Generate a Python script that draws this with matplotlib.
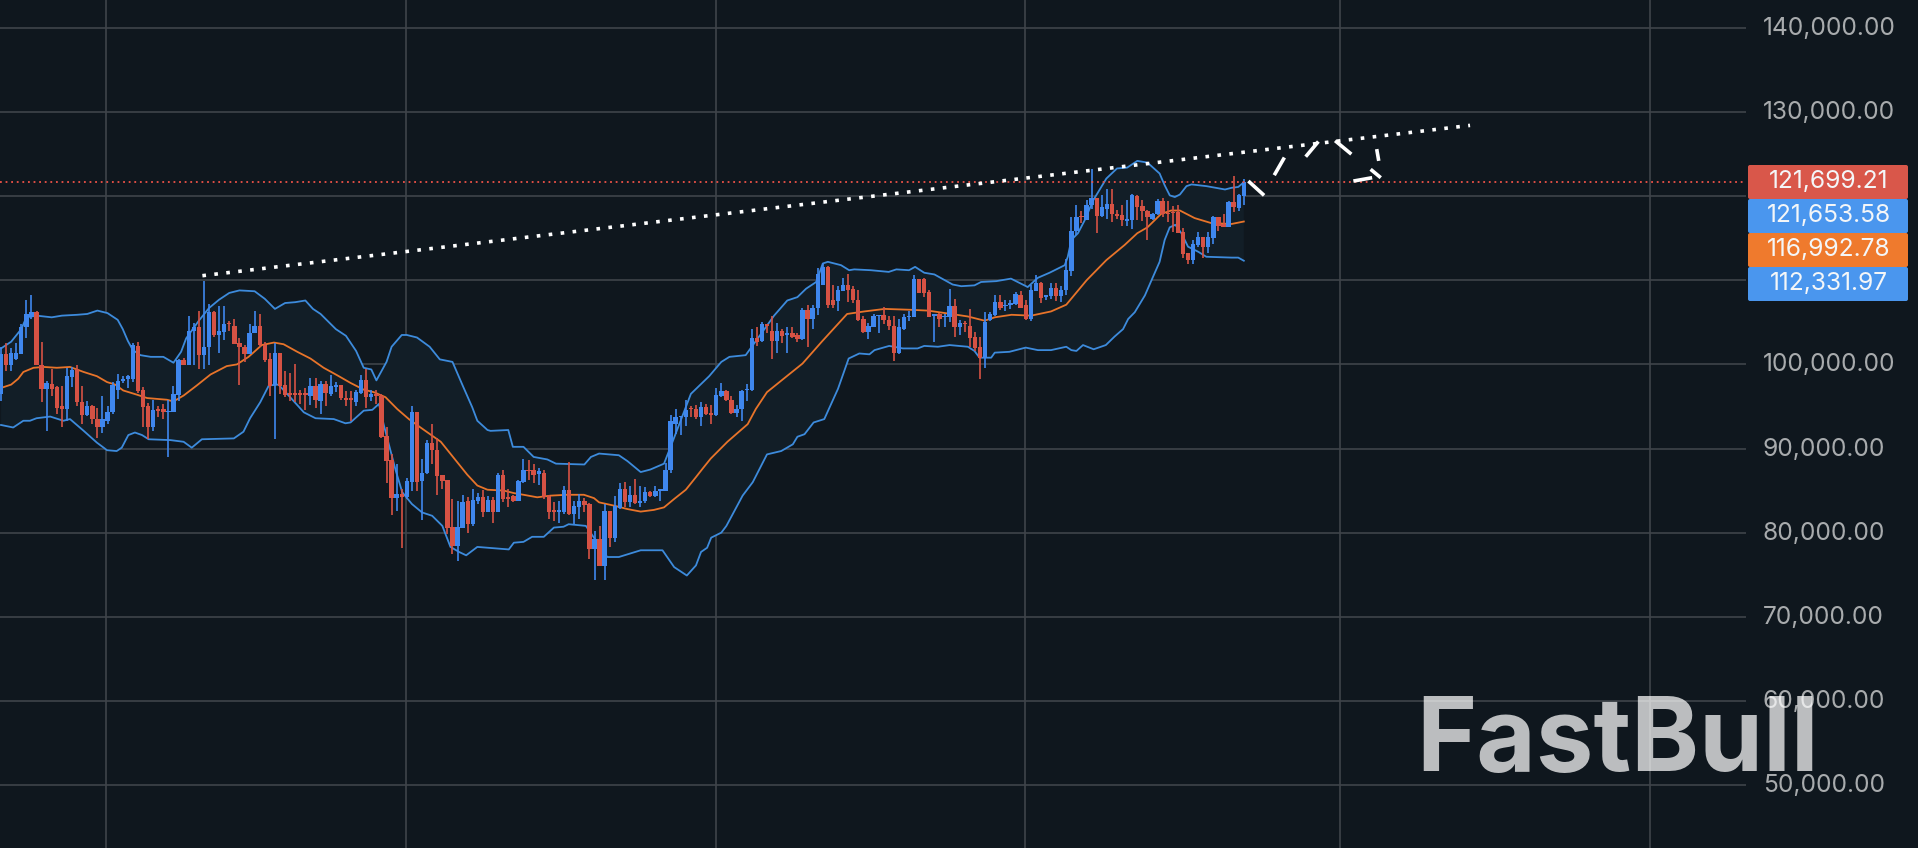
import matplotlib
matplotlib.use('Agg')
import matplotlib.pyplot as plt
from matplotlib.patches import FancyBboxPatch
from matplotlib.transforms import IdentityTransform, ScaledTranslation
import numpy as np

# Candles, prices in thousands
open_k = [
    96.5, 101.2, 99.9, 100.7, 101.2, 104.4, 105.6, 106.2, 99.9, 97.1,
    97.7, 97.3, 95.0, 94.7, 98.5, 99.4, 95.5, 94.0, 95.1, 93.5,
    92.5, 93.3, 94.3, 96.9, 98.0, 98.3, 98.3, 102.2, 96.9, 95.1,
    92.5, 94.7, 94.7, 94.4, 94.4, 96.4, 100.5, 99.9, 104.0, 104.4,
    101.1, 102.1, 106.2, 103.5, 103.9, 104.9, 104.6, 102.5, 102.1, 101.2,
    103.7, 104.6, 102.3, 100.6, 97.5, 101.3, 97.6, 96.6, 96.6, 96.6,
    96.6, 96.3, 97.4, 95.7, 97.7, 96.5, 97.3, 97.5, 96.0, 96.0,
    95.5, 96.6, 98.2, 96.1, 96.5, 96.3, 91.5, 88.6, 84.1, 84.6,
    84.2, 86.0, 94.3, 86.1, 87.1, 90.6, 89.8, 86.8, 86.2, 80.7,
    78.4, 80.6, 83.7, 81.0, 83.7, 84.2, 82.5, 83.9, 82.5, 86.9,
    84.2, 84.3, 83.7, 86.0, 87.5, 87.4, 87.0, 87.1, 84.4, 82.7,
    82.5, 82.5, 85.1, 82.2, 83.0, 83.8, 83.4, 78.1, 79.2, 76.0,
    82.6, 79.4, 82.9, 85.2, 83.6, 84.5, 83.5, 83.7, 84.8, 84.3,
    85.0, 85.0, 87.4, 92.9, 93.7, 93.8, 94.8, 94.7, 93.7, 94.9,
    94.2, 94.0, 96.3, 96.8, 95.8, 94.2, 94.7, 96.9, 96.9, 103.2,
    102.8, 104.8, 104.0, 102.8, 104.0, 103.5, 103.7, 103.5, 103.0, 106.5,
    105.4, 106.7, 109.5, 111.6, 107.6, 107.5, 108.7, 109.4, 109.0, 107.7,
    105.4, 103.8, 104.5, 105.7, 105.9, 105.3, 104.6, 101.4, 104.2, 105.6,
    105.6, 110.2, 110.2, 108.6, 105.7, 106.0, 105.6, 105.6, 106.9, 104.4,
    104.9, 104.6, 103.3, 102.1, 100.8, 105.3, 105.9, 107.4, 107.0, 107.1,
    107.2, 108.3, 107.1, 105.4, 108.7, 109.7, 108.0, 108.1, 109.1, 108.1,
    108.9, 111.1, 115.9, 117.6, 117.2, 118.9, 119.8, 117.6, 118.5, 119.1,
    117.9, 117.8, 117.1, 117.2, 120.0, 118.8, 118.3, 117.3, 117.9, 119.4,
    118.0, 118.1, 118.1, 115.8, 113.2, 112.4, 114.2, 115.1, 114.0, 115.0,
    117.5, 116.7, 116.3, 119.3, 118.6, 120.0,
]
close_k = [
    101.2, 99.9, 101.3, 101.3, 104.4, 106.0, 106.2, 99.9, 97.1, 97.8,
    97.1, 94.8, 94.7, 98.6, 99.3, 95.5, 94.0, 95.1, 93.5, 92.5,
    93.5, 94.4, 97.5, 98.0, 98.3, 98.6, 102.3, 96.8, 94.9, 92.5,
    94.6, 94.5, 94.4, 94.5, 96.5, 100.5, 99.9, 104.0, 104.4, 101.1,
    102.1, 106.2, 103.5, 104.0, 104.8, 104.8, 102.4, 102.1, 101.2, 103.7,
    104.6, 102.3, 100.5, 97.4, 101.3, 97.4, 96.4, 96.4, 96.4, 96.4,
    96.4, 97.4, 95.8, 97.7, 96.6, 97.4, 97.5, 96.0, 95.8, 95.8,
    96.7, 98.2, 96.1, 96.5, 96.3, 91.4, 88.5, 84.1, 84.6, 84.2,
    86.1, 94.3, 86.0, 87.1, 90.6, 89.8, 86.7, 86.1, 80.6, 78.4,
    80.7, 83.6, 81.0, 83.9, 84.2, 82.4, 83.9, 82.5, 86.9, 84.0,
    84.0, 83.7, 86.1, 87.5, 87.3, 86.8, 87.3, 84.2, 82.5, 82.5,
    82.7, 85.1, 82.2, 83.2, 83.8, 83.3, 78.1, 79.2, 76.0, 82.6,
    79.4, 83.2, 85.2, 83.6, 84.5, 83.5, 83.8, 84.8, 84.4, 85.0,
    85.2, 87.5, 93.3, 93.7, 93.9, 94.6, 94.7, 93.7, 94.9, 94.1,
    94.0, 96.4, 96.8, 95.8, 94.2, 94.7, 96.8, 97.1, 103.2, 102.7,
    104.8, 104.6, 102.8, 104.0, 103.4, 103.7, 103.3, 103.0, 106.5, 105.4,
    106.7, 110.8, 111.6, 107.1, 107.1, 108.9, 109.4, 108.9, 107.6, 105.3,
    103.8, 104.6, 105.8, 105.9, 105.3, 104.6, 101.4, 104.4, 105.6, 105.8,
    110.2, 108.5, 108.5, 105.6, 106.0, 105.4, 105.8, 106.9, 104.4, 104.9,
    104.8, 103.2, 102.0, 100.8, 105.0, 106.0, 107.4, 106.7, 107.1, 107.3,
    108.4, 106.7, 105.4, 108.8, 109.7, 107.9, 108.2, 109.1, 108.1, 108.9,
    111.2, 115.9, 117.5, 117.5, 119.0, 119.8, 117.6, 118.7, 119.1, 117.9,
    117.7, 117.2, 117.3, 120.1, 118.7, 118.3, 117.5, 117.9, 119.4, 117.9,
    117.9, 118.0, 115.6, 113.1, 112.4, 114.3, 115.1, 114.0, 115.1, 117.5,
    116.4, 116.3, 119.3, 118.7, 120.1, 121.7,
]
high_k = [
    102.1, 102.5, 101.9, 102.5, 104.8, 107.7, 108.3, 106.4, 102.7, 98.0,
    99.4, 97.4, 97.4, 99.6, 99.7, 99.9, 97.4, 95.6, 95.2, 94.8,
    96.2, 95.1, 97.9, 98.9, 98.6, 98.8, 102.5, 102.7, 97.3, 95.4,
    95.8, 95.1, 95.3, 95.8, 97.4, 100.7, 100.8, 105.8, 104.9, 106.3,
    109.9, 107.2, 106.3, 106.9, 107.0, 105.2, 105.4, 103.2, 102.3, 104.8,
    106.4, 106.0, 102.7, 101.3, 102.5, 101.3, 99.2, 99.0, 100.1, 96.9,
    97.2, 98.4, 98.4, 98.0, 98.0, 98.8, 97.9, 97.6, 96.8, 96.8,
    96.9, 98.7, 99.4, 97.0, 96.9, 96.5, 92.5, 89.3, 88.2, 85.2,
    86.5, 95.1, 94.4, 88.8, 91.0, 92.9, 91.2, 86.9, 86.3, 84.0,
    83.7, 84.5, 84.2, 85.2, 84.7, 85.1, 84.4, 84.2, 87.1, 87.5,
    85.2, 84.5, 86.3, 88.8, 88.6, 88.2, 87.7, 87.5, 84.5, 83.6,
    83.8, 85.6, 88.4, 83.8, 84.6, 84.1, 83.5, 80.2, 80.8, 83.4,
    82.6, 84.3, 85.9, 86.0, 85.6, 86.4, 85.5, 85.4, 85.0, 85.6,
    85.2, 88.3, 94.0, 94.7, 93.9, 95.8, 95.1, 95.2, 95.5, 95.3,
    95.2, 97.2, 97.8, 97.0, 96.2, 95.2, 97.0, 97.7, 104.2, 104.4,
    105.0, 104.8, 105.8, 104.9, 104.2, 104.4, 104.5, 103.7, 106.7, 107.1,
    107.1, 111.5, 112.0, 111.7, 109.4, 109.3, 110.3, 110.7, 109.3, 108.9,
    105.8, 104.9, 106.0, 105.9, 106.8, 105.8, 105.8, 105.4, 106.0, 106.4,
    110.6, 110.2, 110.3, 108.8, 106.0, 106.1, 106.0, 109.0, 107.8, 105.3,
    105.2, 106.6, 103.8, 103.3, 106.2, 106.2, 108.2, 108.3, 107.7, 107.6,
    108.6, 108.7, 107.6, 109.4, 110.6, 109.8, 108.3, 109.7, 109.7, 109.3,
    112.5, 117.5, 118.9, 118.3, 119.5, 123.2, 119.8, 120.1, 120.9, 120.8,
    118.4, 118.9, 119.6, 120.3, 120.1, 119.5, 118.4, 118.0, 119.7, 119.8,
    119.4, 118.8, 118.9, 116.2, 113.3, 114.8, 115.8, 115.1, 115.8, 117.7,
    117.5, 117.9, 119.4, 122.4, 120.3, 122.0,
]
low_k = [
    95.6, 99.2, 99.2, 100.5, 101.2, 103.2, 105.4, 99.9, 95.5, 92.1,
    96.3, 94.1, 92.5, 93.3, 97.3, 95.0, 92.9, 93.9, 92.9, 91.3,
    91.9, 92.9, 94.1, 95.9, 97.8, 97.2, 97.9, 96.6, 92.5, 91.1,
    92.1, 93.7, 93.5, 89.0, 94.3, 95.7, 99.9, 99.9, 99.9, 99.4,
    99.5, 99.9, 103.3, 101.3, 102.9, 104.0, 102.4, 97.6, 100.3, 101.2,
    103.7, 102.1, 100.3, 96.3, 91.1, 96.5, 96.1, 95.7, 95.5, 95.3,
    94.6, 95.2, 94.8, 94.1, 95.1, 96.3, 96.7, 95.8, 95.1, 93.3,
    95.0, 96.5, 94.8, 95.7, 95.3, 91.3, 85.9, 82.1, 82.6, 78.2,
    84.0, 85.0, 85.0, 81.5, 87.0, 88.2, 84.5, 85.2, 79.8, 77.5,
    76.6, 80.6, 79.9, 80.8, 83.4, 81.9, 82.4, 81.1, 82.4, 83.6,
    83.1, 83.6, 83.7, 85.9, 86.2, 85.9, 85.7, 84.0, 81.6, 81.4,
    81.2, 82.2, 82.1, 81.0, 81.6, 82.5, 76.9, 74.4, 76.0, 74.4,
    78.3, 78.9, 82.8, 83.1, 83.1, 83.4, 83.0, 83.5, 84.2, 84.2,
    83.8, 85.0, 87.1, 91.7, 91.6, 92.7, 93.7, 93.5, 92.7, 94.0,
    92.9, 93.9, 96.1, 95.7, 94.1, 93.7, 93.3, 95.7, 96.8, 102.2,
    102.7, 103.7, 100.6, 101.4, 102.5, 101.3, 103.2, 102.7, 102.9, 102.1,
    104.2, 105.9, 109.4, 106.7, 106.7, 106.4, 108.7, 107.4, 107.3, 105.2,
    103.7, 103.0, 104.4, 103.7, 104.8, 104.1, 100.4, 101.2, 104.1, 105.2,
    105.6, 108.5, 108.0, 105.6, 102.7, 104.4, 104.4, 105.0, 103.3, 103.5,
    103.8, 102.1, 101.6, 98.3, 99.6, 105.2, 105.8, 106.5, 106.4, 106.6,
    107.1, 106.7, 105.3, 105.2, 108.7, 107.3, 107.7, 107.8, 107.5, 107.4,
    108.3, 110.5, 115.4, 116.8, 117.2, 118.5, 115.6, 117.5, 117.3, 116.9,
    117.3, 116.4, 116.5, 116.1, 117.2, 117.1, 114.8, 117.2, 117.8, 117.5,
    116.9, 115.8, 115.6, 112.6, 111.9, 111.9, 114.0, 112.7, 113.3, 114.3,
    115.9, 116.3, 116.3, 118.1, 118.3, 118.9,
]

# Bollinger bands, read at their own bar positions
upper_idx = [
    0, 2, 4, 5, 7, 10, 12, 15, 17, 19, 21, 23, 24, 25, 26, 27.5, 29.5, 32, 34, 35.5,
    36.5, 39, 41, 43, 45, 47, 50, 52, 54, 56, 58, 60, 61.5, 63, 66, 68, 70, 71.5, 73, 74,
    76, 77, 79, 80, 82, 84.5, 86.5, 89, 91, 92.9, 93.9, 95.9, 96.5, 100, 100.9, 103, 105, 107.7, 109.4, 115,
    116.3, 117.9, 121.8, 123.5, 126.1, 128, 130.7, 132, 136, 139.6, 142, 143.6, 146.8, 150.5, 152.4, 155, 157, 158.7, 160.7, 162,
    163, 165.6, 167.2, 168.2, 171.5, 175, 176.5, 179, 180.2, 182, 184, 187.6, 189.3, 191.9, 193.2, 196.2, 199.1, 202.4, 204.4, 206.7,
    209.7, 210.3, 211, 212.3, 213.6, 215.3, 217.9, 220, 222, 224, 226, 228.4, 229.4, 230.4, 231.4, 232.4, 233.7, 234.7, 237.6, 241.3,
    242.6, 243.9, 245,
]
upper_k = [
    101.9, 102.7, 104.2, 105.6, 105.8, 105.6, 105.8, 105.9, 106.0, 106.4, 106.1, 105.3, 104.2, 102.8, 101.7, 101.1, 100.9, 100.9, 100.2, 101.5,
    103.1, 105.2, 106.7, 107.7, 108.5, 108.8, 108.7, 107.8, 106.6, 107.3, 107.4, 107.6, 106.6, 106.0, 104.2, 103.4, 101.6, 99.6, 99.4, 98.1,
    100.3, 102.1, 103.5, 103.5, 103.2, 102.1, 100.6, 100.3, 97.5, 94.9, 93.3, 92.2, 92.1, 92.2, 90.2, 90.2, 89.0, 88.7, 88.2, 88.1,
    89.0, 89.4, 89.2, 88.5, 87.2, 87.5, 88.2, 90.2, 96.5, 98.6, 100.3, 100.9, 101.1, 104.2, 105.8, 107.6, 108.0, 109.0, 109.8, 112.0,
    112.2, 111.8, 111.2, 111.3, 111.2, 111.0, 111.3, 111.2, 111.6, 110.9, 110.7, 109.5, 109.3, 109.4, 109.8, 109.9, 110.2, 109.2, 110.3, 110.9,
    111.8, 112.8, 114.8, 115.6, 117.1, 119.5, 122.1, 123.3, 123.4, 124.2, 124.0, 122.7, 121.3, 120.1, 119.9, 120.2, 121.2, 121.4, 121.2, 120.8,
    121.0, 121.1, 121.65,
]
middle_idx = [
    0, 2, 3.4, 4.4, 6.4, 8.4, 11, 13.6, 16.3, 18.9, 20.9, 22.5, 24.1, 26.8, 28.8, 32.7, 34, 36, 38.6, 41.3,
    44.5, 46.5, 48.8, 51.4, 53.8, 55.7, 58.4, 61, 63.6, 66.3, 68.9, 71.5, 73.5, 75.8, 78.1, 80.4, 82.7, 86.7, 89.9, 91.9,
    93.9, 95.9, 99.1, 101.1, 103, 105.7, 108.4, 111.6, 114.9, 116.9, 117.9, 120.9, 123.5, 126.1, 128.7, 130.7, 132.7, 135, 137, 138.3,
    139.9, 143.2, 147.2, 148.8, 151, 154.7, 158, 161.8, 166.8, 170.2, 174.2, 179.1, 182.7, 187.3, 190.6, 193.9, 195.9, 199.2, 203.1, 207,
    210, 214, 217.9, 221.5, 224, 226, 228.7, 230.7, 232.4, 235.3, 238.6, 242.6, 245,
]
middle_k = [
    97.2, 97.6, 98.3, 99.1, 99.6, 99.7, 99.6, 99.7, 99.1, 98.6, 97.9, 97.6, 96.9, 96.4, 96.0, 95.8, 95.6, 96.3, 97.5, 98.8,
    99.8, 100.0, 100.9, 102.3, 102.6, 102.4, 101.5, 100.7, 99.6, 98.7, 97.8, 97.0, 96.7, 96.1, 94.7, 93.5, 92.5, 90.8, 88.4, 86.9,
    85.6, 85.1, 85.0, 84.7, 84.5, 84.2, 84.4, 84.5, 84.5, 84.1, 83.6, 83.2, 82.8, 82.5, 82.7, 83.0, 84.0, 85.1, 86.6, 87.6,
    88.8, 90.8, 92.9, 94.7, 96.7, 98.5, 100.1, 102.7, 106.0, 106.3, 106.6, 106.5, 106.4, 106.0, 105.7, 105.2, 105.6, 105.9, 105.8, 106.3,
    107.1, 110.0, 112.4, 114.2, 115.6, 116.3, 117.9, 118.3, 118.3, 117.4, 116.8, 116.7, 116.99,
]
lower_idx = [
    0, 2.4, 4.4, 5.7, 7, 9.7, 12.3, 13.6, 16.3, 18.9, 20.9, 22.8, 23.8, 25.1, 26.4, 27.8, 29.1, 33.4, 36, 37.6,
    39.6, 45.9, 47.8, 49.1, 51.1, 52.8, 54.7, 57, 59.7, 62, 65.6, 67.9, 68.9, 71.5, 73.2, 74.5, 75.5, 77.8, 79.1, 81,
    83, 85, 87, 88.6, 90.3, 91.7, 93.9, 100.1, 101.1, 103, 104.7, 107, 109, 110.9, 111.9, 115.3, 119.5, 121.8, 126.1, 130.4,
    132.7, 135.2, 137, 138, 139.2, 140, 142, 143, 144.6, 146.2, 148.2, 151, 153.8, 156.1, 157, 158.4, 160.2, 162.3, 165, 167.1,
    169.2, 171.2, 172.2, 175.1, 177.8, 180.7, 182, 184.7, 187, 190.6, 191.9, 192.9, 195.2, 195.9, 198.8, 202, 204.4, 207, 210, 211,
    212, 213.3, 215.4, 217.8, 219.5, 221.2, 222.2, 223.5, 225.5, 226.8, 228.4, 229.4, 230.4, 231.5, 232.7, 234, 236, 237.6, 242.6, 243.9,
    245,
]
lower_k = [
    92.8, 92.5, 93.3, 93.3, 93.6, 93.8, 93.3, 93.5, 92.1, 90.7, 89.8, 89.7, 90.1, 91.6, 91.9, 91.6, 91.1, 91.0, 90.8, 90.1,
    91.1, 91.2, 92.0, 93.6, 95.5, 97.5, 97.6, 96.1, 94.3, 93.6, 93.5, 93.0, 93.1, 94.5, 94.6, 95.3, 92.7, 87.4, 84.8, 83.4,
    82.4, 82.0, 80.8, 78.3, 77.7, 77.3, 78.3, 78.0, 78.8, 78.9, 79.5, 79.5, 80.6, 80.7, 81.0, 80.8, 77.1, 77.1, 77.9, 77.9,
    75.9, 74.9, 76.1, 77.7, 78.2, 79.4, 80.0, 80.8, 82.6, 84.4, 86.0, 89.3, 89.7, 90.5, 91.4, 91.7, 93.1, 93.5, 97.1, 100.7,
    101.3, 101.2, 101.7, 102.2, 101.9, 101.9, 102.2, 102.1, 102.3, 102.1, 101.6, 100.8, 100.8, 101.4, 101.5, 102.0, 101.7, 101.7, 102.1, 101.7,
    101.6, 102.3, 101.8, 102.3, 103.3, 104.2, 105.4, 106.2, 108.2, 110.0, 112.2, 114.8, 116.3, 116.6, 115.6, 114.0, 113.4, 112.8, 112.7, 112.7,
    112.33,
]

# Drawn trendline and forecast dashes
trend_idx = [39.7, 289.6]
trend_k = [110.55, 128.42]
forecast_idx = [[245.9, 249], [251, 253], [257.2, 259.7], [263, 266.2], [271.2, 271.6], [270, 272], [270.3, 266.6]]
forecast_k = [[121.8, 120.1], [122.5, 124.6], [124.7, 126.5], [126.6, 125], [125.6, 124.2], [123.2, 122.2], [122.2, 121.8]]

# Axis ticks and price tags
price_ticks = [50000, 60000, 70000, 80000, 90000, 100000, 110000, 120000, 130000, 140000]
hidden_ticks = [110000, 120000]  # covered by the price tags
time_ticks = [20.7, 79.8, 140.9, 201.9, 263.9, 325.0]
last_price = 121699.21
tag_values = [121699.21, 121653.58, 116992.78, 112331.97]
tag_colors = ['#d9574a', '#4a96ee', '#ef7a2d', '#4a96ee']

bg = '#0f171e'
up_color = '#3f87ee'
down_color = '#d65244'
band_color = '#3d8bdc'
mid_color = '#e8742a'
grid_color = '#3f444a'
font = 'Inter'
label_size = 17.7

W, H = 1918, 848
fig = plt.figure(figsize=(W / 100, H / 100), dpi=100, facecolor=bg)
ax = fig.add_axes([0, 0, 1746 / W, 1], facecolor=bg)
ax.set_xlim(-0.2, 344)
ax.set_ylim(42500, 143330)
for s in ax.spines.values():
    s.set_visible(False)

# Grid
ax.set_xticks(time_ticks)
ax.set_xticklabels([])
ax.tick_params(axis='x', length=0)
ax.set_yticks(price_ticks)
ax.set_yticklabels(['' if p in hidden_ticks else f'{p:,.2f}' for p in price_ticks],
                   fontname=font, fontsize=label_size, color='#a8abad')
ax.yaxis.tick_right()
ax.tick_params(axis='y', length=0, pad=12)
ax.grid(True, color=grid_color, linewidth=1.2, zorder=1.5)
ax.set_axisbelow(True)

# Tick labels sit a little above their gridline
nudge = ScaledTranslation(0, 2 / 100, fig.dpi_scale_trans)
for label in ax.get_yticklabels():
    label.set_transform(label.get_transform() + nudge)

# Bollinger band area and lines
band_x = list(upper_idx) + list(lower_idx[::-1])
band_y = [v * 1000 for v in upper_k] + [v * 1000 for v in lower_k[::-1]]
ax.fill(band_x, band_y, color='#121e27', linewidth=0, zorder=1)
ax.plot(upper_idx, np.array(upper_k) * 1000, color=band_color, lw=1.3, zorder=2)
ax.plot(lower_idx, np.array(lower_k) * 1000, color=band_color, lw=1.3, zorder=2)
ax.plot(middle_idx, np.array(middle_k) * 1000, color=mid_color, lw=1.3, zorder=2)

# Candles
o = np.array(open_k) * 1000
c = np.array(close_k) * 1000
hi = np.array(high_k) * 1000
lo = np.array(low_k) * 1000
idx = np.arange(len(o))
colors = [up_color if b >= a else down_color for a, b in zip(o, c)]
ax.vlines(idx, lo, hi, colors=colors, linewidth=1.2, zorder=3)
ax.bar(idx, np.abs(c - o), bottom=np.minimum(o, c), width=0.86, color=colors, linewidth=0, zorder=3)

# Last price line, trendline and forecast
ax.axhline(last_price, color='#ee5247', lw=1.3, linestyle=(0, (1, 2.1)), zorder=4)
ax.plot(trend_idx, np.array(trend_k) * 1000, color='white', lw=2.6, linestyle=(0, (1, 2.33)),
        dash_capstyle='butt', zorder=5)
for xs, ys in zip(forecast_idx, forecast_k):
    ax.plot(xs, np.array(ys) * 1000, color='white', lw=2.6, solid_capstyle='butt', zorder=5)

# Price tags on the right, in figure pixels
for n, (val, col) in enumerate(zip(tag_values, tag_colors)):
    y0 = H - 199 - n * 34
    fig.add_artist(FancyBboxPatch((1749, y0 + 1), 158, 32, boxstyle='round,pad=1,rounding_size=2',
                                  facecolor=col, edgecolor='none', transform=IdentityTransform()))
    fig.text(1829 / W, (y0 + 17) / H, f'{val:,.2f}', fontname=font, fontsize=label_size, color='#f4f6f8',
             ha='center', va='center')

# Watermark
fig.text(1416 / W, (H - 771) / H, 'FastBull', fontname=font, fontweight='bold', fontsize=74,
         color='white', alpha=0.72, ha='left', va='baseline', zorder=10)

fig.savefig('out.png', dpi=100, facecolor=bg)
